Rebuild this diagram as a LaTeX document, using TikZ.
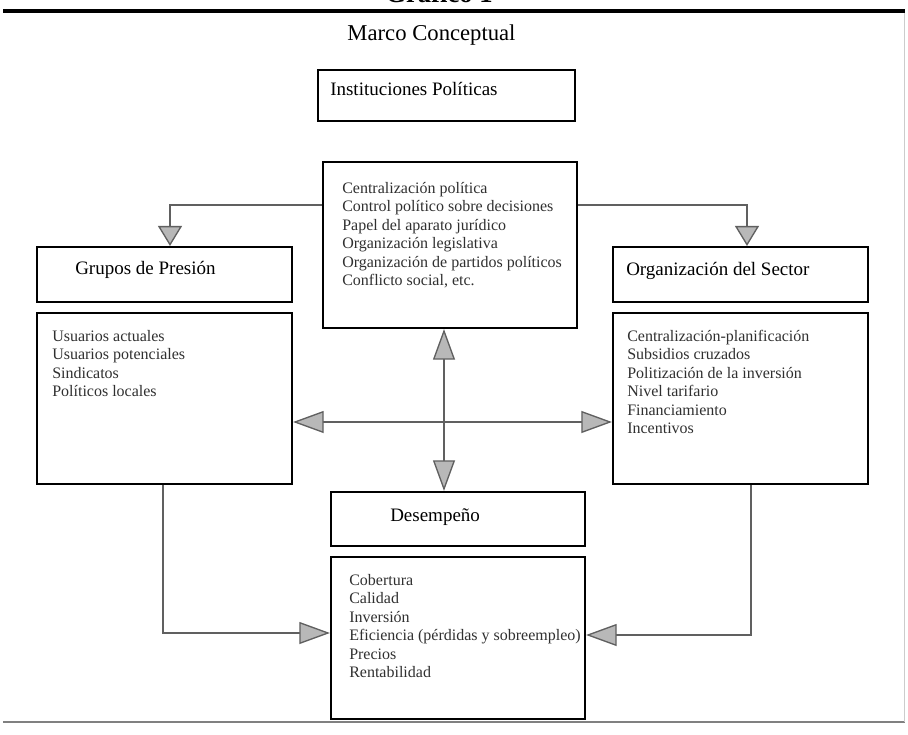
\documentclass[tikz,border=0pt]{standalone}
\usepackage{fontspec}
\setmainfont{Liberation Serif}
\usetikzlibrary{arrows.meta}
\definecolor{linegray}{HTML}{606060}
\definecolor{tipgray}{HTML}{B8B8B8}
\definecolor{bodytext}{HTML}{303030}
\definecolor{rulegray}{HTML}{808080}
\begin{document}
\begin{tikzpicture}[x=0.75pt,y=-0.75pt,
  box/.style={draw=black,line width=1.6pt,inner sep=0pt,fill=white},
  conn/.style={draw=linegray,line width=1pt},
  bigtip/.tip={Triangle[length=23pt,width=16.5pt,fill=tipgray]},
  smalltip/.tip={Triangle[length=15pt,width=18pt,fill=tipgray]},
  titletext/.style={font=\fontsize{14.25}{17}\selectfont,anchor=base west,inner sep=0pt},
  bodytext/.style={font=\fontsize{12}{13.875}\selectfont,text=bodytext,anchor=north west,inner sep=0pt,align=left}]
\useasboundingbox (0,0) rectangle (908,735);
\fill[white] (0,0) rectangle (908,735);

% heading (cut off at the top)
\begin{scope}
\clip (0,0) rectangle (908,735);
\node[font=\bfseries\fontsize{20}{24}\selectfont,anchor=base,inner sep=0pt] (grafico) at (439,3) {Gráfico 1};
\end{scope}
\coordinate (rtl) at (3,11);
\coordinate (rtr) at (905,11);
\draw[line width=2.6pt] (rtl) -- (rtr);
\coordinate (rbl) at (3,722);
\coordinate (rbr) at (905,722);
\draw[draw=rulegray,line width=1.6pt] (rbl) -- (rbr);
\coordinate (rvt) at (904,13);
\draw[draw=black!20,line width=0.6pt] (rvt) -- (rvt |- rbr);

\node[font=\fontsize{17}{20}\selectfont,anchor=base,inner sep=0pt] (marco) at (431.5,41) {Marco Conceptual};

% boxes
\node[box,minimum width=192.75pt,minimum height=38.25pt] (inst) at (446.5,95.5) {};
\node[box,minimum width=190.5pt,minimum height=124.5pt] (cbox) at (450,245) {};
\node[box,minimum width=191.25pt,minimum height=41.25pt] (grupos) at (164.5,274.5) {};
\node[box,minimum width=191.25pt,minimum height=128.25pt] (llow) at (164.5,398.5) {};
\node[box,minimum width=191.25pt,minimum height=41.25pt] (orgs) at (740.5,274.5) {};
\node[box,minimum width=191.25pt,minimum height=128.25pt] (rlow) at (740.5,398.5) {};
\node[box,minimum width=190.5pt,minimum height=40.5pt] (desem) at (458,519) {};
\node[box,minimum width=190.5pt,minimum height=121.5pt] (dlow) at (458,638) {};

% titles
\node[titletext] (instT) at (330,96) {Instituciones Políticas};
\node[titletext] (gruposT) at (75,274) {Grupos de Presión};
\node[titletext] (orgsT) at (626,275) {Organización del Sector};
\node[titletext] (desemT) at (390,521) {Desempeño};

% lists
\node[bodytext] (cboxL) at (342,180) {\strut Centralización política\\Control político sobre decisiones\\Papel del aparato jurídico\\Organización legislativa\\Organización de partidos políticos\\Conflicto social, etc.};
\node[bodytext] (llowL) at (52,328) {\strut Usuarios actuales\\Usuarios potenciales\\Sindicatos\\Políticos locales};
\node[bodytext] (rlowL) at (627,328) {\strut Centralización-planificación\\Subsidios cruzados\\Politización de la inversión\\Nivel tarifario\\Financiamiento\\Incentivos};
\node[bodytext] (dlowL) at (349,572) {\strut Cobertura\\Calidad\\Inversión\\Eficiencia (pérdidas y sobreempleo)\\Precios\\Rentabilidad};

% connectors
\coordinate (jl) at (170,205);
\coordinate (jr) at (747,205);
\draw[conn,-{smalltip}] (cbox.west |- jl) -- (jl) -- (jl |- grupos.north);
\draw[conn,-{smalltip}] (cbox.east |- jr) -- (jr) -- (jr |- orgs.north);

\coordinate (hx) at (444,422);
\draw[conn,{bigtip}-{bigtip}] (llow.east |- hx) -- (rlow.west |- hx);
\draw[conn,{bigtip}-{bigtip}] (cbox.south -| hx) -- (desem.north -| hx);

\coordinate (bl) at (163,633);
\coordinate (br) at (751,635);
\draw[conn,-{bigtip}] (bl |- llow.south) -- (bl) -- (dlow.west |- bl);
\draw[conn,-{bigtip}] (br |- rlow.south) -- (br) -- (dlow.east |- br);
\end{tikzpicture}
\end{document}
